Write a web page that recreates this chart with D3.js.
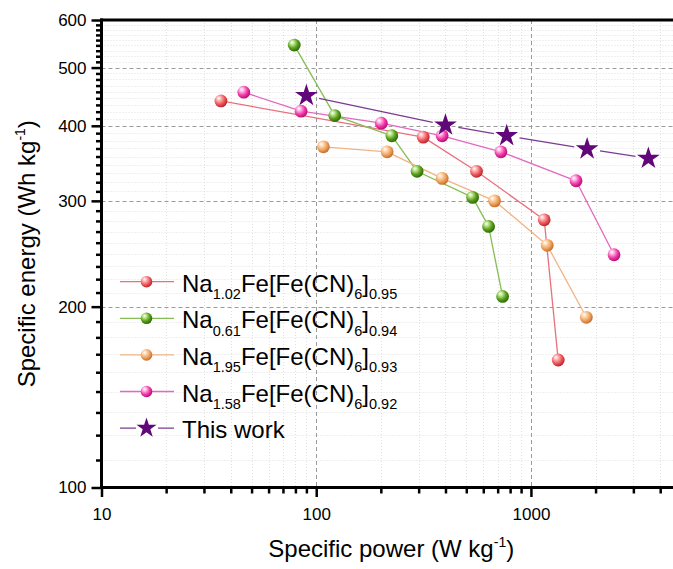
<!DOCTYPE html>
<html>
<head>
<meta charset="utf-8">
<title>Ragone plot</title>
<style>
  body { margin: 0; background: #fff; }
  text { font-family: Arial, "Liberation Sans", sans-serif; fill: #000; }
  .axis text { font-size: 17px; }
  .axis .tick line { stroke: #000; stroke-width: 2.5; }
  .axis .domain { display: none; }
  .frame { stroke: #000; stroke-width: 3; }
  .grid-major { stroke: #9a9a9a; stroke-width: 1; stroke-dasharray: 4,3; }
  .grid-minor { stroke: #e0e0e0; stroke-width: 1; stroke-dasharray: 1,2; }
  .series-line { fill: none; stroke-width: 1.3; }
  .title { font-size: 24px; }
  .legend text { font-size: 24px; }
</style>
</head>
<body>
<svg width="673" height="569"></svg>
<script src="https://cdnjs.cloudflare.com/ajax/libs/d3/7.8.5/d3.min.js"></script>
<script>
// ---- data ----
var powerNa102 = [36, 315, 558, 1153, 1340];
var energyNa102 = [440, 383, 336, 279, 163];

var powerNa061 = [79, 122, 225, 295, 535, 635, 738];
var energyNa061 = [545, 416, 385, 336, 304, 272, 208];

var powerNa195 = [108, 214, 386, 677, 1191, 1811];
var energyNa195 = [369, 362, 327, 300, 253, 192];

var powerNa158 = [46, 85, 201, 386, 725, 1622, 2438];
var energyNa158 = [455, 423, 404, 385, 362, 324, 244];

var powerThisWork = [90, 400, 771, 1827, 3524];
var energyThisWork = [449, 401, 385, 366, 353];

var xTickLabels = [10, 100, 1000];
var yTickLabels = [100, 200, 300, 400, 500, 600];

// name parts: [main, sub, main, sub, main, sub]
var legendNames = [
  ["Na", "1.02", "Fe[Fe(CN)", "6", "]", "0.95"],
  ["Na", "0.61", "Fe[Fe(CN)", "6", "]", "0.94"],
  ["Na", "1.95", "Fe[Fe(CN)", "6", "]", "0.93"],
  ["Na", "1.58", "Fe[Fe(CN)", "6", "]", "0.92"],
  ["This work"]
];

var series = [
  {id: "red",    x: powerNa102,    y: energyNa102,    color: "#ef5b5f", light: "#ffc4c4", dark: "#b8262e", line: "#e8707c", shape: "ball"},
  {id: "green",  x: powerNa061,    y: energyNa061,    color: "#5a9f1c", light: "#c6ec9c", dark: "#2f6a06", line: "#86bd55", shape: "ball"},
  {id: "orange", x: powerNa195,    y: energyNa195,    color: "#f0a35f", light: "#ffe0c0", dark: "#c4702c", line: "#f0b485", shape: "ball"},
  {id: "pink",   x: powerNa158,    y: energyNa158,    color: "#f23aa8", light: "#ffc2ea", dark: "#b80f74", line: "#e468bf", shape: "ball"},
  {id: "purple", x: powerThisWork, y: energyThisWork, color: "#62077a", light: "#62077a", dark: "#62077a", line: "#7b3b92", shape: "star"}
];

var svg = d3.select("svg");

var x = d3.scaleLog().domain([10, 5000]).range([101.5, 681]);
var y = d3.scaleLog().domain([100, 600]).range([487.5, 20]);

// minor tick positions
var xMinor = [];
[10, 100, 1000].forEach(function(d) {
  for (var k = 2; k <= 9; k++) if (d * k < 5000) xMinor.push(d * k);
});
var yMinor = [];
for (var i = 0; i < yTickLabels.length - 1; i++) {
  for (var k = 1; k <= 8; k++) yMinor.push(yTickLabels[i] + k * 100 / 9);
}

// gradients for the ball markers
var defs = svg.append("defs");
series.forEach(function(s) {
  var g = defs.append("radialGradient")
      .attr("id", "ball-" + s.id)
      .attr("cx", "40%").attr("cy", "38%").attr("r", "62%")
      .attr("fx", "32%").attr("fy", "28%");
  g.append("stop").attr("offset", "0%").attr("stop-color", "#ffffff");
  g.append("stop").attr("offset", "22%").attr("stop-color", s.light);
  g.append("stop").attr("offset", "65%").attr("stop-color", s.color);
  g.append("stop").attr("offset", "100%").attr("stop-color", s.dark);
});

// grid
var grid = svg.append("g");
grid.selectAll(".gx-minor").data(xMinor).enter().append("line")
    .attr("class", "grid-minor")
    .attr("x1", function(d) { return Math.round(x(d)) + 0.5; })
    .attr("x2", function(d) { return Math.round(x(d)) + 0.5; })
    .attr("y1", y(600)).attr("y2", y(100));
grid.selectAll(".gy-minor").data(yMinor).enter().append("line")
    .attr("class", "grid-minor")
    .attr("y1", function(d) { return Math.round(y(d)) + 0.5; })
    .attr("y2", function(d) { return Math.round(y(d)) + 0.5; })
    .attr("x1", x(10)).attr("x2", x(5000));
grid.selectAll(".gx-major").data([100, 1000]).enter().append("line")
    .attr("class", "grid-major")
    .attr("x1", function(d) { return Math.round(x(d)) + 0.5; })
    .attr("x2", function(d) { return Math.round(x(d)) + 0.5; })
    .attr("y1", y(600)).attr("y2", y(100));
grid.selectAll(".gy-major").data([200, 300, 400, 500]).enter().append("line")
    .attr("class", "grid-major")
    .attr("y1", function(d) { return Math.round(y(d)) + 0.5; })
    .attr("y2", function(d) { return Math.round(y(d)) + 0.5; })
    .attr("x1", x(10)).attr("x2", x(5000));

// axes
var fmt = function(d) { return d; };
svg.append("g").attr("class", "axis")
    .attr("transform", "translate(0," + y(100) + ")")
    .call(d3.axisBottom(x).tickValues(xMinor).tickSize(6).tickSizeOuter(0).tickFormat(""));
svg.append("g").attr("class", "axis")
    .attr("transform", "translate(0," + y(100) + ")")
    .call(d3.axisBottom(x).tickValues(xTickLabels).tickSize(9.5).tickSizeOuter(0).tickPadding(11).tickFormat(fmt));
svg.append("g").attr("class", "axis")
    .attr("transform", "translate(" + x(10) + ",0)")
    .call(d3.axisLeft(y).tickValues(yMinor).tickSize(5.5).tickSizeOuter(0).tickFormat(""));
svg.append("g").attr("class", "axis")
    .attr("transform", "translate(" + x(10) + ",0)")
    .call(d3.axisLeft(y).tickValues(yTickLabels).tickSize(10).tickSizeOuter(0).tickPadding(5).tickFormat(fmt));

// frame lines
svg.append("line").attr("class", "frame")
    .attr("x1", x(10)).attr("x2", x(10)).attr("y1", y(600) - 1.5).attr("y2", y(100) + 1.5);
svg.append("line").attr("class", "frame")
    .attr("x1", x(10) - 1.5).attr("x2", x(5000)).attr("y1", y(100)).attr("y2", y(100));
svg.append("line").attr("class", "frame")
    .attr("x1", x(10) - 1.5).attr("x2", x(5000)).attr("y1", y(600)).attr("y2", y(600));

// connecting lines (with a gap around the star markers)
var lines = svg.append("g");
series.forEach(function(s) {
  var pts = s.x.map(function(v, i) { return [x(v), y(s.y[i])]; });
  var gap = s.shape === "star" ? 13 : 0;
  for (var i = 0; i < pts.length - 1; i++) {
    var a = pts[i], b = pts[i + 1];
    var dx = b[0] - a[0], dy = b[1] - a[1], len = Math.sqrt(dx * dx + dy * dy);
    var ux = dx / len, uy = dy / len;
    lines.append("line")
        .attr("class", "series-line")
        .attr("stroke", s.line)
        .attr("x1", a[0] + ux * gap).attr("y1", a[1] + uy * gap)
        .attr("x2", b[0] - ux * gap).attr("y2", b[1] - uy * gap);
  }
});

// markers
var star = d3.symbol().type(d3.symbolStar).size(160);
var starSmall = d3.symbol().type(d3.symbolStar).size(125);
function drawMarker(g, s, cx, cy, small) {
  if (s.shape === "star") {
    g.append("path")
        .attr("transform", "translate(" + cx + "," + cy + ")")
        .attr("d", small ? starSmall() : star())
        .attr("fill", s.color);
  } else {
    g.append("circle")
        .attr("cx", cx).attr("cy", cy)
        .attr("r", small ? 5.8 : 6.4)
        .attr("fill", "url(#ball-" + s.id + ")");
  }
}
var marks = svg.append("g");
series.forEach(function(s) {
  s.x.forEach(function(v, i) { drawMarker(marks, s, x(v), y(s.y[i]), false); });
});

// axis titles
var xt = svg.append("text").attr("class", "title")
    .attr("x", (x(10) + x(5000)) / 2).attr("y", 557)
    .attr("text-anchor", "middle");
xt.append("tspan").text("Specific power (W kg");
xt.append("tspan").attr("font-size", "14px").attr("dy", -10).text("-1");
xt.append("tspan").attr("dy", 10).text(")");

var yt = svg.append("text").attr("class", "title")
    .attr("transform", "translate(35," + (y(100) + y(600)) / 2 + ") rotate(-90)")
    .attr("text-anchor", "middle");
yt.append("tspan").text("Specific energy (Wh kg");
yt.append("tspan").attr("font-size", "14px").attr("dy", -10).text("-1");
yt.append("tspan").attr("dy", 10).text(")");

// legend
var legend = svg.append("g").attr("class", "legend");
series.forEach(function(s, i) {
  var base = 291.7 + i * 36.6;
  var my = base - 10;
  legend.append("line")
      .attr("x1", 120).attr("x2", 174).attr("y1", my).attr("y2", my)
      .attr("stroke", s.line).attr("stroke-width", 1.3);
  if (s.shape === "star") {
    legend.append("line").attr("x1", 136).attr("x2", 158).attr("y1", my).attr("y2", my)
        .attr("stroke", "#fff").attr("stroke-width", 3);
  }
  drawMarker(legend, s, 146.5, my, true);
  var t = legend.append("text").attr("x", 182).attr("y", base);
  legendNames[i].forEach(function(part, j) {
    if (j % 2 === 0) {
      t.append("tspan").attr("dy", j === 0 ? 0 : -7.5).text(part);
    } else {
      t.append("tspan").attr("dy", 7.5).attr("font-size", "14.5px").text(part);
    }
  });
});
</script>
</body>
</html>
